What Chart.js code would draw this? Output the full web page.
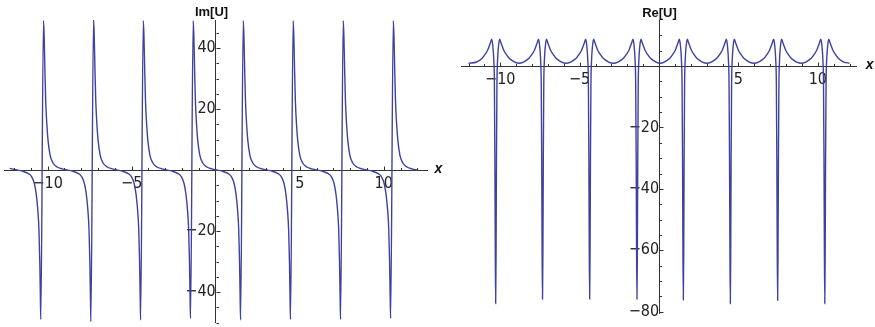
<!DOCTYPE html>
<html>
<head>
<meta charset="utf-8">
<script src="https://cdn.jsdelivr.net/npm/chart.js@4.4.1/dist/chart.umd.min.js"></script>
<style>
  body { margin: 0; background: #fff; }
  #wrap { position: relative; width: 875px; height: 327px; overflow: hidden; background: #fff; }
  canvas { position: absolute; top: 0; }
  #imChart { left: 0; }
  #reChart { left: 440px; }
</style>
</head>
<body>
<div id="wrap">
  <canvas id="imChart" width="448" height="327"></canvas>
  <canvas id="reChart" width="435" height="327"></canvas>
</div>
<script>
// Im[U] sampled along x, one row per pole
const imX = [
  -12.26, -11.83,
  -11.54, -11.14, -10.94, -10.79, -10.68, -10.59, -10.52, -10.47, -10.44, -10.41, -10.25, -10.21, -10.17, -10.12, -10.05, -9.98, -9.86, -9.69, -9.44, -9.14, -8.85,
  -8.56, -8.16, -7.96, -7.81, -7.70, -7.61, -7.54, -7.49, -7.46, -7.43, -7.27, -7.23, -7.19, -7.14, -7.07, -7.00, -6.88, -6.71, -6.46, -6.16, -5.88,
  -5.60, -5.20, -5.00, -4.85, -4.74, -4.65, -4.58, -4.53, -4.50, -4.47, -4.31, -4.27, -4.23, -4.18, -4.11, -4.04, -3.92, -3.75, -3.50, -3.20, -2.92,
  -2.63, -2.23, -2.03, -1.88, -1.77, -1.68, -1.61, -1.56, -1.53, -1.50, -1.34, -1.30, -1.26, -1.21, -1.14, -1.07, -0.95, -0.78, -0.53, -0.23, 0.06,
  0.35, 0.75, 0.95, 1.10, 1.21, 1.30, 1.37, 1.42, 1.45, 1.48, 1.64, 1.68, 1.72, 1.77, 1.84, 1.91, 2.03, 2.20, 2.45, 2.75, 3.04,
  3.32, 3.72, 3.92, 4.07, 4.18, 4.27, 4.34, 4.39, 4.42, 4.45, 4.61, 4.65, 4.69, 4.74, 4.81, 4.88, 5.00, 5.17, 5.42, 5.72, 6.01,
  6.30, 6.70, 6.90, 7.05, 7.16, 7.25, 7.32, 7.37, 7.40, 7.43, 7.59, 7.63, 7.67, 7.72, 7.79, 7.86, 7.98, 8.15, 8.40, 8.70, 8.99,
  9.28, 9.68, 9.88, 10.03, 10.14, 10.23, 10.30, 10.35, 10.38, 10.41, 10.57, 10.61, 10.65, 10.70, 10.77, 10.84, 10.96, 11.13, 11.38, 11.68, 11.97,
  12.05
];
const imY = [
  0.55, 0,
  -0.3, -1.2, -2.3, -4.5, -8, -13, -19.5, -30, -40, -49, 49, 44, 34, 23, 15, 9.8, 5, 2.4, 1.0, 0.4, 0,
  -0.3, -1.2, -2.3, -4.5, -8, -13, -19.5, -30, -40, -49.7, 49.5, 44, 34, 23, 15, 9.8, 5, 2.4, 1.0, 0.4, 0,
  -0.3, -1.2, -2.3, -4.5, -8, -13, -19.5, -30, -40, -49.2, 49, 44, 34, 23, 15, 9.8, 5, 2.4, 1.0, 0.4, 0,
  -0.3, -1.2, -2.3, -4.5, -8, -13, -19.5, -30, -40, -48.7, 49, 44, 34, 23, 15, 9.8, 5, 2.4, 1.0, 0.4, 0,
  -0.3, -1.2, -2.3, -4.5, -8, -13, -19.5, -30, -40, -49.2, 49, 44, 34, 23, 15, 9.8, 5, 2.4, 1.0, 0.4, 0,
  -0.3, -1.2, -2.3, -4.5, -8, -13, -19.5, -30, -40, -49, 49, 44, 34, 23, 15, 9.8, 5, 2.4, 1.0, 0.4, 0,
  -0.3, -1.2, -2.3, -4.5, -8, -13, -19.5, -30, -40, -49, 49, 44, 34, 23, 15, 9.8, 5, 2.4, 1.0, 0.4, 0,
  -0.3, -1.2, -2.3, -4.5, -8, -13, -19.5, -30, -40, -48.7, 49, 44, 34, 23, 15, 9.8, 5, 2.4, 1.0, 0.4, 0,
  -0.05
];

// Re[U] sampled along x, one row per dip
const reX = [
  -12.0,
  -11.49, -11.14, -10.94, -10.79, -10.69, -10.60, -10.54, -10.47, -10.41, -10.37, -10.34, -10.315, -10.29, -10.265, -10.24, -10.21, -10.17, -10.11, -10.04, -9.98, -9.89, -9.79, -9.64, -9.44, -9.09, -8.82,
  -8.54, -8.19, -7.99, -7.84, -7.74, -7.65, -7.59, -7.52, -7.46, -7.42, -7.39, -7.365, -7.34, -7.315, -7.29, -7.26, -7.22, -7.16, -7.09, -7.03, -6.94, -6.84, -6.69, -6.49, -6.14, -5.86,
  -5.57, -5.22, -5.02, -4.87, -4.77, -4.68, -4.62, -4.55, -4.49, -4.45, -4.42, -4.395, -4.37, -4.345, -4.32, -4.29, -4.25, -4.19, -4.12, -4.06, -3.97, -3.87, -3.72, -3.52, -3.17, -2.88,
  -2.59, -2.24, -2.04, -1.89, -1.79, -1.70, -1.64, -1.57, -1.51, -1.47, -1.44, -1.415, -1.39, -1.365, -1.34, -1.31, -1.27, -1.21, -1.14, -1.08, -0.99, -0.89, -0.74, -0.54, -0.19, 0.07,
  0.33, 0.68, 0.88, 1.03, 1.13, 1.22, 1.28, 1.35, 1.41, 1.45, 1.48, 1.505, 1.53, 1.555, 1.58, 1.61, 1.65, 1.71, 1.78, 1.84, 1.93, 2.03, 2.18, 2.38, 2.73, 3.01,
  3.29, 3.64, 3.84, 3.99, 4.09, 4.18, 4.24, 4.31, 4.37, 4.41, 4.44, 4.465, 4.49, 4.515, 4.54, 4.57, 4.61, 4.67, 4.74, 4.80, 4.89, 4.99, 5.14, 5.34, 5.69, 5.98,
  6.27, 6.62, 6.82, 6.97, 7.07, 7.16, 7.22, 7.29, 7.35, 7.39, 7.42, 7.445, 7.47, 7.495, 7.52, 7.55, 7.59, 7.65, 7.72, 7.78, 7.87, 7.97, 8.12, 8.32, 8.67, 8.96,
  9.24, 9.59, 9.79, 9.94, 10.04, 10.13, 10.19, 10.26, 10.32, 10.36, 10.39, 10.415, 10.44, 10.465, 10.49, 10.52, 10.56, 10.62, 10.69, 10.75, 10.84, 10.94, 11.09, 11.29, 11.64,
  12.0
];
const reY = [
  0.9,
  1.3, 2.5, 3.9, 5.2, 6.6, 7.9, 8.7, 6.5, 2, -6, -30, -60, -77.3, -60, -30, -6, 2, 6.5, 8.7, 7.9, 6.6, 5.2, 3.9, 2.5, 1.3, 0.9,
  1.3, 2.5, 3.9, 5.2, 6.6, 7.9, 8.7, 6.5, 2, -6, -30, -60, -75.9, -60, -30, -6, 2, 6.5, 8.7, 7.9, 6.6, 5.2, 3.9, 2.5, 1.3, 0.9,
  1.3, 2.5, 3.9, 5.2, 6.6, 7.9, 8.7, 6.5, 2, -6, -30, -60, -75.9, -60, -30, -6, 2, 6.5, 8.7, 7.9, 6.6, 5.2, 3.9, 2.5, 1.3, 0.9,
  1.3, 2.5, 3.9, 5.2, 6.6, 7.9, 8.7, 6.5, 2, -6, -30, -60, -75.9, -60, -30, -6, 2, 6.5, 8.7, 7.9, 6.6, 5.2, 3.9, 2.5, 1.3, 0.9,
  1.3, 2.5, 3.9, 5.2, 6.6, 7.9, 8.7, 6.5, 2, -6, -30, -60, -76.1, -60, -30, -6, 2, 6.5, 8.7, 7.9, 6.6, 5.2, 3.9, 2.5, 1.3, 0.9,
  1.3, 2.5, 3.9, 5.2, 6.6, 7.9, 8.7, 6.5, 2, -6, -30, -60, -77.3, -60, -30, -6, 2, 6.5, 8.7, 7.9, 6.6, 5.2, 3.9, 2.5, 1.3, 0.9,
  1.3, 2.5, 3.9, 5.2, 6.6, 7.9, 8.7, 6.5, 2, -6, -30, -60, -76.3, -60, -30, -6, 2, 6.5, 8.7, 7.9, 6.6, 5.2, 3.9, 2.5, 1.3, 0.9,
  1.3, 2.5, 3.9, 5.2, 6.6, 7.9, 8.7, 6.5, 2, -6, -30, -60, -77.3, -60, -30, -6, 2, 6.5, 8.7, 7.9, 6.6, 5.2, 3.9, 2.5, 1.3,
  0.9
];

const imTicksX = [-10, -5, 5, 10];
const imTicksY = [-40, -20, 20, 40];
const reTicksX = [-10, -5, 5, 10];
const reTicksY = [-80, -60, -40, -20];

const tickFont = { family: '"Liberation Sans Narrow", "DejaVu Sans Condensed", sans-serif', size: 16 };
const axisColor = '#333';
const lineColor = '#4040a0';

function minus(v) { return String(v).replace('-', '\u2212'); }

// axes cross at the origin, so their labels must not eat into the plot area
function noEdgePadding(s) {
  s.paddingLeft = 0; s.paddingRight = 0; s.paddingTop = 0; s.paddingBottom = 0;
}

// tick marks on the axes through the origin, and the axis names
const axisMarks = {
  id: 'axisMarks',
  afterDraw(chart, args, o) {
    const { ctx, chartArea } = chart;
    const xs = chart.scales.x, ys = chart.scales.y;
    const x0 = Math.round(xs.getPixelForValue(0)) + 0.5;
    const y0 = Math.round(ys.getPixelForValue(0)) + 0.5;
    ctx.save();
    ctx.strokeStyle = axisColor;
    ctx.lineWidth = 1;
    ctx.beginPath();
    for (let v = Math.ceil(xs.min); v <= xs.max; v++) {
      if (v === 0) continue;
      const len = o.majorX.includes(v) ? 4 : 2.5;
      const px = Math.round(xs.getPixelForValue(v)) + 0.5;
      ctx.moveTo(px, y0);
      ctx.lineTo(px, y0 - len);
    }
    for (let v = Math.ceil(ys.min / 5) * 5; v <= ys.max; v += 5) {
      if (v === 0) continue;
      const len = o.majorY.includes(v) ? 4 : 2.5;
      const py = Math.round(ys.getPixelForValue(v)) + 0.5;
      ctx.moveTo(x0, py);
      ctx.lineTo(x0 + len, py);
    }
    ctx.stroke();

    ctx.fillStyle = '#111';
    ctx.textAlign = 'center';
    ctx.font = 'bold 13px "Liberation Sans", sans-serif';
    ctx.textBaseline = 'alphabetic';
    ctx.fillText(o.yName, x0 + o.nameShift, chartArea.top - 4);
    ctx.font = 'italic bold 14px "Liberation Sans", sans-serif';
    ctx.textBaseline = 'middle';
    ctx.fillText('x', chartArea.right + o.xGap, y0 - 1);
    ctx.restore();
  }
};

function plot(id, xs, ys, c) {
  new Chart(document.getElementById(id), {
    type: 'line',
    data: {
      datasets: [{
        data: xs.map((x, i) => ({ x: x, y: ys[i] })),
        borderColor: lineColor,
        borderWidth: 1.4,
        pointRadius: 0,
        fill: false,
        cubicInterpolationMode: 'monotone'
      }]
    },
    options: {
      responsive: false,
      animation: false,
      devicePixelRatio: 1,
      layout: { padding: c.padding },
      plugins: {
        legend: { display: false },
        tooltip: { enabled: false },
        axisMarks: { majorX: c.ticksX, majorY: c.ticksY, yName: c.yName, nameShift: c.nameShift, xGap: c.xGap }
      },
      scales: {
        x: {
          type: 'linear',
          min: c.xMin, max: c.xMax,
          position: { y: 0 },
          grid: { display: false, drawTicks: false },
          border: { color: axisColor, width: 1 },
          ticks: { font: tickFont, color: '#222', padding: 4, maxRotation: 0, autoSkip: false, callback: minus },
          afterBuildTicks: s => { s.ticks = c.ticksX.map(v => ({ value: v })); },
          afterFit: noEdgePadding
        },
        y: {
          type: 'linear',
          min: c.yMin, max: c.yMax,
          position: { x: 0 },
          grid: { display: false, drawTicks: false },
          border: { color: axisColor, width: 1 },
          ticks: { font: tickFont, color: '#222', padding: 5, autoSkip: false, callback: minus },
          afterBuildTicks: s => { s.ticks = c.ticksY.map(v => ({ value: v })); },
          afterFit: noEdgePadding
        }
      }
    },
    plugins: [axisMarks]
  });
}

plot('imChart', imX, imY, {
  xMin: -12.6, xMax: 12.6, yMin: -50, yMax: 49.2,
  ticksX: imTicksX, ticksY: imTicksY,
  yName: 'Im[U]', nameShift: -5, xGap: 11,
  padding: { left: 4, right: 20.6, top: 20, bottom: 4.5 }
});

plot('reChart', reX, reY, {
  xMin: -12.43, xMax: 12.45, yMin: -80.5, yMax: 14.75,
  ticksX: reTicksX, ticksY: reTicksY,
  yName: 'Re[U]', nameShift: 0, xGap: 13,
  padding: { left: 21.7, right: 18.3, top: 20.7, bottom: 13.7 }
});
</script>
</body>
</html>
